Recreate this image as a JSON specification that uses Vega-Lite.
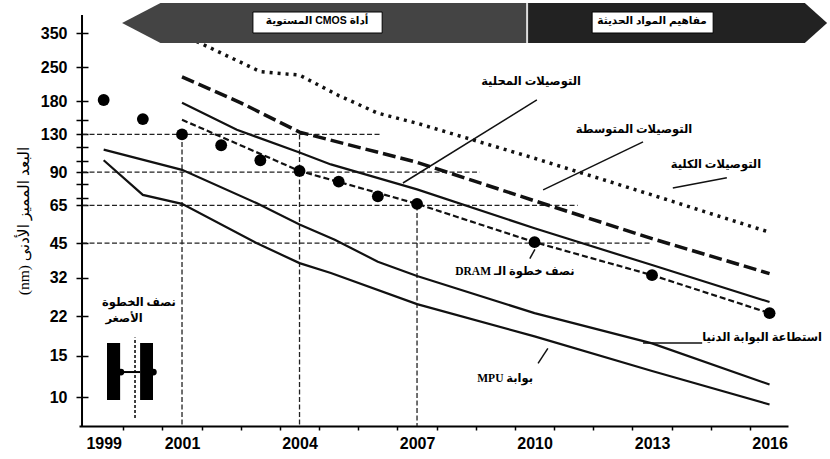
{
  "$schema": "https://vega.github.io/schema/vega-lite/v6.json",
  "width": 709,
  "height": 411,
  "autosize": "none",
  "padding": {"left": 79, "top": 15, "right": 42, "bottom": 33},
  "background": "white",
  "config": {"view": {"stroke": null}, "axis": {"grid": false}},
  "datasets": {
    "lines": [
      {"s": "global", "x": 2001, "y": 345}, {"s": "global", "x": 2003, "y": 240}, {"s": "global", "x": 2004, "y": 232}, {"s": "global", "x": 2005, "y": 190}, {"s": "global", "x": 2006, "y": 160}, {"s": "global", "x": 2007, "y": 145}, {"s": "global", "x": 2010, "y": 103}, {"s": "global", "x": 2013, "y": 72}, {"s": "global", "x": 2016, "y": 50},
      {"s": "inter", "x": 2001, "y": 228}, {"s": "inter", "x": 2002.5, "y": 177}, {"s": "inter", "x": 2004, "y": 133}, {"s": "inter", "x": 2007, "y": 99}, {"s": "inter", "x": 2010, "y": 68}, {"s": "inter", "x": 2013, "y": 47}, {"s": "inter", "x": 2016, "y": 33.4},
      {"s": "local", "x": 2001, "y": 177}, {"s": "local", "x": 2002.4, "y": 136}, {"s": "local", "x": 2004, "y": 109}, {"s": "local", "x": 2004.8, "y": 97}, {"s": "local", "x": 2007, "y": 76}, {"s": "local", "x": 2010, "y": 52}, {"s": "local", "x": 2013, "y": 36.3}, {"s": "local", "x": 2016, "y": 25.3},
      {"s": "dram", "x": 2001, "y": 150}, {"s": "dram", "x": 2004, "y": 91}, {"s": "dram", "x": 2007, "y": 66}, {"s": "dram", "x": 2010, "y": 45.4}, {"s": "dram", "x": 2013, "y": 32.9}, {"s": "dram", "x": 2016, "y": 22.7},
      {"s": "mingate", "x": 1999, "y": 112}, {"s": "mingate", "x": 2001, "y": 92}, {"s": "mingate", "x": 2002.9, "y": 66.5}, {"s": "mingate", "x": 2004, "y": 54}, {"s": "mingate", "x": 2004.9, "y": 46.5}, {"s": "mingate", "x": 2006, "y": 37.5}, {"s": "mingate", "x": 2007, "y": 32.6}, {"s": "mingate", "x": 2010, "y": 22.7}, {"s": "mingate", "x": 2013, "y": 16.9}, {"s": "mingate", "x": 2016, "y": 11.3},
      {"s": "mpu", "x": 1999, "y": 101}, {"s": "mpu", "x": 2000, "y": 72}, {"s": "mpu", "x": 2001, "y": 66}, {"s": "mpu", "x": 2002.9, "y": 45}, {"s": "mpu", "x": 2004, "y": 37}, {"s": "mpu", "x": 2004.8, "y": 33.6}, {"s": "mpu", "x": 2007, "y": 24.8}, {"s": "mpu", "x": 2010, "y": 18.1}, {"s": "mpu", "x": 2013, "y": 12.9}, {"s": "mpu", "x": 2016, "y": 9.3}
    ],
    "dots": [
      {"x": 1999, "y": 182}, {"x": 2000, "y": 151}, {"x": 2001, "y": 130}, {"x": 2002, "y": 117}, {"x": 2003, "y": 101}, {"x": 2004, "y": 91}, {"x": 2005, "y": 82}, {"x": 2006, "y": 71}, {"x": 2007, "y": 66}, {"x": 2010, "y": 45.4}, {"x": 2013, "y": 32.9}, {"x": 2016, "y": 22.7}
    ],
    "grid": [
      {"x": 1998.447, "x2": 2006.1, "y": 130, "y2": 130},
      {"x": 1998.447, "x2": 2008.6, "y": 90, "y2": 90},
      {"x": 1998.447, "x2": 2011.1, "y": 65, "y2": 65},
      {"x": 1998.447, "x2": 2013.0, "y": 45, "y2": 45},
      {"x": 2001, "x2": 2001, "y": 130, "y2": 7.54},
      {"x": 2004, "x2": 2004, "y": 130, "y2": 7.54},
      {"x": 2007, "x2": 2007, "y": 65, "y2": 7.54}
    ],
    "yaxisline": [{"x": 1998.447, "y": 7.54, "y2": 417.3}],
    "pointers": [
      {"x": 2010.06, "y": 182, "x2": 2006.64, "y2": 80.9},
      {"x": 2012.77, "y": 120.9, "x2": 2010.22, "y2": 75.7},
      {"x": 2013.53, "y": 77.1, "x2": 2014.91, "y2": 85.2},
      {"x": 2010.01, "y": 42.3, "x2": 2009.88, "y2": 38.7},
      {"x": 2012.77, "y": 16.96, "x2": 2014.28, "y2": 16.96},
      {"x": 2010.09, "y": 13.9, "x2": 2010.34, "y2": 16.1}
    ],
    "annot": [
      {"x": 2009.91, "y": 216.8, "t": "التوصيلات المحلية"},
      {"x": 2012.54, "y": 135.8, "t": "التوصيلات المتوسطة"},
      {"x": 2014.63, "y": 96.4, "t": "التوصيلات الكلية"},
      {"x": 2009.5, "y": 33.9, "t": "DRAM نصف خطوة الـ"},
      {"x": 2015.81, "y": 17.8, "t": "استطاعة البوابة الدنيا"},
      {"x": 2009.25, "y": 11.9, "t": "MPU بوابة"},
      {"x": 1999.9, "y": 25.0, "t": "نصف الخطوة"},
      {"x": 1999.52, "y": 21.5, "t": "الأصغر"}
    ],
    "banner": [
      {"p": "L", "x": 1999.47, "y": 385.9, "y2": 385.9},
      {"p": "L", "x": 2000.45, "y": 469, "y2": 317.5},
      {"p": "L", "x": 2009.81, "y": 469, "y2": 317.5},
      {"p": "R", "x": 2009.81, "y": 469, "y2": 317.5},
      {"p": "R", "x": 2016.9, "y": 469, "y2": 317.5},
      {"p": "R", "x": 2017.47, "y": 385.9, "y2": 385.9}
    ],
    "divider": [{"x": 2009.81, "y": 317.5, "y2": 469}],
    "boxes": [
      {"x": 2002.81, "x2": 2006.11, "y": 350, "y2": 429.7},
      {"x": 2011.47, "x2": 2014.56, "y": 350, "y2": 429.7}
    ],
    "boxtext": [
      {"x": 2004.45, "y": 392.6, "t": "المستوية CMOS أداة"},
      {"x": 2013.0, "y": 392.6, "t": "مفاهيم المواد الحديثة"}
    ],
    "hrects": [
      {"x": 1999.085, "x2": 1999.42, "y": 9.72, "y2": 16.96},
      {"x": 1999.93, "x2": 2000.26, "y": 9.72, "y2": 16.96}
    ],
    "hbar": [{"x": 1999.42, "x2": 1999.93, "y": 12.77}],
    "hdash": [{"x": 1999.8, "y": 8.15, "y2": 17.9}],
    "hdots": [{"x": 1999.44, "y": 12.77}, {"x": 2000.27, "y": 12.77}]
  },
  "encoding": {
    "x": {
      "field": "x", "type": "quantitative",
      "scale": {"domain": [1998.37, 2016.471], "nice": false, "zero": false},
      "axis": {
        "title": null,
        "values": [1999, 1999.5, 2000.5, 2001, 2001.5, 2002.5, 2003.5, 2004, 2004.5, 2005.5, 2006.5, 2007, 2007.5, 2008.5, 2009.5, 2010, 2010.5, 2011.5, 2012.5, 2013, 2013.5, 2014.5, 2015.5, 2016],
        "labelExpr": "datum.value % 1 == 0 ? '' + datum.value : ''",
        "tickColor": {"condition": {"test": "datum.value % 1 == 0", "value": "transparent"}, "value": "black"},
        "tickSize": 4,
        "tickWidth": 1.5,
        "domainColor": "black",
        "domainWidth": 2,
        "labelFont": "Liberation Sans",
        "labelFontWeight": "bold",
        "labelFontSize": 16,
        "labelColor": "black",
        "labelPadding": 5,
        "labelOverlap": false,
        "labelSeparation": 0,
        "labelFlush": false,
        "labelBound": false
      }
    },
    "y": {
      "field": "y", "type": "quantitative",
      "scale": {"type": "log", "domain": [7.54, 417.3], "nice": false},
      "axis": {
        "title": "(nm) البعد المميز الأدنى",
        "values": [10, 15, 22, 32, 45, 65, 70, 80, 90, 100, 115, 130, 150, 180, 250, 350],
        "format": "d",
        "labelExpr": "(datum.value==70||datum.value==80||datum.value==100||datum.value==115||datum.value==150) ? '' : datum.label",
        "domain": false,
        "offset": -9,
        "tickSize": 12,
        "tickWidth": 1.5,
        "tickColor": "black",
        "labelFont": "Liberation Sans",
        "labelFontWeight": "bold",
        "labelFontSize": 16,
        "labelColor": "black",
        "labelPadding": 9,
        "labelOverlap": false,
        "titleFont": "Liberation Serif, DejaVu Sans",
        "titleFontWeight": "normal",
        "titleFontSize": 15.5,
        "titleColor": "black",
        "titlePadding": 9
      }
    }
  },
  "layer": [
    {
      "data": {"name": "grid"},
      "mark": {"type": "rule", "color": "#222", "strokeWidth": 1.3, "strokeDash": [5, 2.5]},
      "encoding": {"x2": {"field": "x2"}, "y2": {"field": "y2"}}
    },
    {
      "data": {"name": "yaxisline"},
      "mark": {"type": "rule", "color": "black", "strokeWidth": 2},
      "encoding": {"y2": {"field": "y2"}}
    },
    {
      "data": {"name": "lines"},
      "transform": [{"filter": "datum.s == 'global'"}],
      "mark": {"type": "line", "color": "#111", "strokeWidth": 3.5, "strokeDash": [3, 5]},
      "encoding": {}
    },
    {
      "data": {"name": "lines"},
      "transform": [{"filter": "datum.s == 'inter'"}],
      "mark": {"type": "line", "color": "#111", "strokeWidth": 3.5, "strokeDash": [13, 5]},
      "encoding": {}
    },
    {
      "data": {"name": "lines"},
      "transform": [{"filter": "datum.s == 'local' || datum.s == 'mingate' || datum.s == 'mpu'"}],
      "mark": {"type": "line", "color": "#111", "strokeWidth": 2.2},
      "encoding": {"detail": {"field": "s"}}
    },
    {
      "data": {"name": "lines"},
      "transform": [{"filter": "datum.s == 'dram'"}],
      "mark": {"type": "line", "color": "#111", "strokeWidth": 2.2, "strokeDash": [6, 3]},
      "encoding": {}
    },
    {
      "data": {"name": "dots"},
      "mark": {"type": "circle", "color": "#000", "opacity": 1, "size": 140},
      "encoding": {}
    },
    {
      "data": {"name": "pointers"},
      "mark": {"type": "rule", "color": "#111", "strokeWidth": 1.5},
      "encoding": {"x2": {"field": "x2"}, "y2": {"field": "y2"}}
    },
    {
      "data": {"name": "annot"},
      "mark": {"type": "text", "font": "Liberation Serif, DejaVu Sans", "fontWeight": "bold", "fontSize": 11.5, "color": "#000", "align": "center", "baseline": "middle"},
      "encoding": {"text": {"field": "t"}}
    },
    {
      "data": {"name": "banner"},
      "transform": [{"filter": "datum.p == 'L'"}],
      "mark": {"type": "area", "color": "#444", "opacity": 1},
      "encoding": {"y2": {"field": "y2"}}
    },
    {
      "data": {"name": "banner"},
      "transform": [{"filter": "datum.p == 'R'"}],
      "mark": {"type": "area", "color": "#222", "opacity": 1},
      "encoding": {"y2": {"field": "y2"}}
    },
    {
      "data": {"name": "divider"},
      "mark": {"type": "rule", "color": "#ddd", "strokeWidth": 2},
      "encoding": {"y2": {"field": "y2"}}
    },
    {
      "data": {"name": "boxes"},
      "mark": {"type": "rect", "fill": "white", "stroke": "#000", "strokeWidth": 1},
      "encoding": {"x2": {"field": "x2"}, "y2": {"field": "y2"}}
    },
    {
      "data": {"name": "boxtext"},
      "mark": {"type": "text", "font": "Liberation Sans, DejaVu Sans", "fontWeight": "bold", "fontSize": 10.5, "color": "#000", "align": "center", "baseline": "middle"},
      "encoding": {"text": {"field": "t"}}
    },
    {
      "data": {"name": "hrects"},
      "mark": {"type": "rect", "color": "#000"},
      "encoding": {"x2": {"field": "x2"}, "y2": {"field": "y2"}}
    },
    {
      "data": {"name": "hbar"},
      "mark": {"type": "rule", "color": "#000", "strokeWidth": 2},
      "encoding": {"x2": {"field": "x2"}}
    },
    {
      "data": {"name": "hdash"},
      "mark": {"type": "rule", "color": "#000", "strokeWidth": 1.5, "strokeDash": [3, 2]},
      "encoding": {"y2": {"field": "y2"}}
    },
    {
      "data": {"name": "hdots"},
      "mark": {"type": "circle", "color": "#000", "opacity": 1, "size": 45},
      "encoding": {}
    }
  ]
}
